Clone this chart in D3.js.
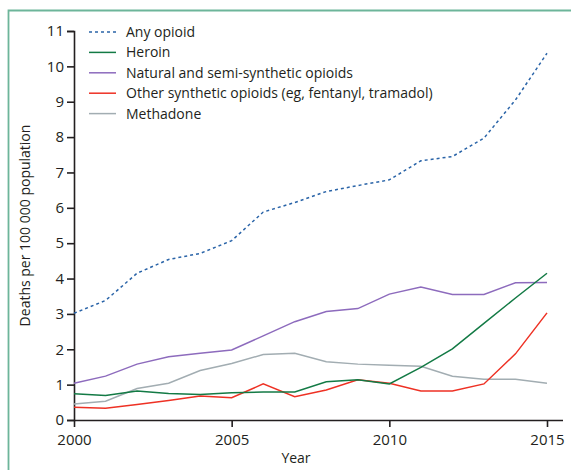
<!DOCTYPE html>
<html>
<head>
<meta charset="utf-8">
<script src="https://cdn.jsdelivr.net/npm/d3@7"></script>
<style>
  body { margin: 0; background: #fff; }
  svg text { font-family: "Open Sans", "Noto Sans", sans-serif; fill: #231f20; }
</style>
</head>
<body>
<div id="chart"></div>
<script>
// data
const years = d3.range(2000, 2016);
const anyOpioid = [3.02, 3.38, 4.15, 4.54, 4.71, 5.07, 5.88, 6.15, 6.46, 6.63, 6.79, 7.33, 7.45, 7.97, 9.05, 10.37];
const heroin    = [0.74, 0.69, 0.82, 0.75, 0.72, 0.77, 0.79, 0.79, 1.08, 1.14, 1.02, 1.49, 2.01, 2.73, 3.45, 4.15];
const natural   = [1.04, 1.24, 1.58, 1.79, 1.89, 1.98, 2.38, 2.78, 3.07, 3.15, 3.56, 3.76, 3.55, 3.55, 3.88, 3.89];
const otherSyn  = [0.36, 0.33, 0.44, 0.55, 0.68, 0.63, 1.02, 0.66, 0.85, 1.14, 1.04, 0.82, 0.82, 1.02, 1.87, 3.03];
const methadone = [0.45, 0.53, 0.89, 1.04, 1.40, 1.60, 1.85, 1.89, 1.65, 1.58, 1.55, 1.52, 1.24, 1.15, 1.15, 1.04];
const yTicks = d3.range(0, 12);
const xTicks = [2000, 2005, 2010, 2015];

const series = [
  {name: "Any opioid", values: anyOpioid, color: "#2a64a8", dash: "3,3"},
  {name: "Heroin", values: heroin, color: "#137a45", dash: null},
  {name: "Natural and semi-synthetic opioids", values: natural, color: "#8d6bbd", dash: null},
  {name: "Other synthetic opioids (eg, fentanyl, tramadol)", values: otherSyn, color: "#ee3124", dash: null},
  {name: "Methadone", values: methadone, color: "#a2adb2", dash: null}
];

const W = 571, H = 470;
const margin = {top: 31, right: 24, bottom: 50, left: 74},
    width = 547 - margin.left,
    height = 420 - margin.top;

const root = d3.select("#chart")
  .append("svg")
    .attr("width", W)
    .attr("height", H);

// green frame (runs off the right and bottom edges)
root.append("path")
  .attr("d", "M8.5,480 V10.5 H580")
  .attr("fill", "none")
  .attr("stroke", "#6db59a")
  .attr("stroke-width", 1.8);

const svg = root.append("g")
  .attr("transform", `translate(${margin.left},${margin.top})`);

const x = d3.scaleLinear()
  .domain([2000, 2015])
  .range([0, width]);

const y = d3.scaleLinear()
  .domain([0, 11])
  .range([height, 0]);

// y axis
const yAxis = svg.append("g")
  .call(d3.axisLeft(y).tickValues(yTicks).tickSize(7).tickPadding(3).tickFormat(d3.format("d")));
yAxis.selectAll("text").style("font-size", "15px");

// x axis
const xAxis = svg.append("g")
  .attr("transform", `translate(0,${height})`)
  .call(d3.axisBottom(x).tickValues(xTicks).tickSize(7).tickPadding(7).tickFormat(d3.format("d")));
xAxis.select(".domain").attr("d", `M0,0.5H${width + 16}`);
xAxis.selectAll("text").style("font-size", "15px");

svg.selectAll(".domain, .tick line")
  .attr("stroke", "#231f20")
  .attr("stroke-width", 1.6);

// axis titles
svg.append("text")
  .attr("transform", `translate(-44,${height / 2}) rotate(-90)`)
  .attr("text-anchor", "middle")
  .style("font-size", "14px")
  .text("Deaths per 100 000 population");

svg.append("text")
  .attr("x", x(2000) + 222)
  .attr("y", height + 43)
  .attr("text-anchor", "middle")
  .style("font-size", "14px")
  .text("Year");

// lines
const line = d3.line()
  .x((d, i) => x(years[i]))
  .y(d => y(d));

svg.selectAll(".series")
  .data(series.slice().reverse())
  .join("path")
    .attr("class", "series")
    .attr("d", d => line(d.values))
    .attr("fill", "none")
    .attr("stroke", d => d.color)
    .attr("stroke-width", 1.5)
    .attr("stroke-dasharray", d => d.dash);

// legend
const legend = svg.append("g")
  .attr("transform", "translate(15,1)");

const rows = legend.selectAll("g")
  .data(series)
  .join("g")
    .attr("transform", (d, i) => `translate(0,${i * 20.4})`);

rows.append("line")
  .attr("x1", 0).attr("x2", 27)
  .attr("stroke", d => d.color)
  .attr("stroke-width", 1.5)
  .attr("stroke-dasharray", d => d.dash);

rows.append("text")
  .attr("x", 37)
  .attr("dy", "0.35em")
  .style("font-size", "14px")
  .text(d => d.name);
</script>
</body>
</html>
